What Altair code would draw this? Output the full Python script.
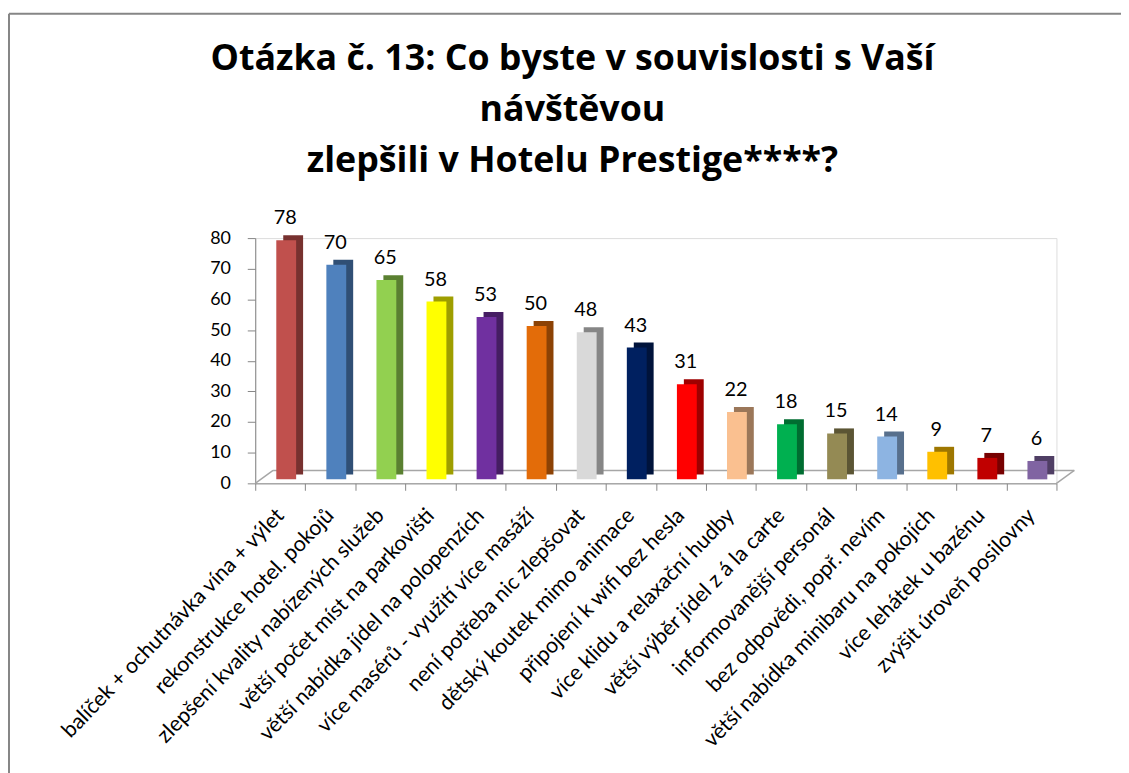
import altair as alt
import pandas as pd

categories = [
    "balíček + ochutnávka vína + výlet",
    "rekonstrukce hotel. pokojů",
    "zlepšení kvality nabízených služeb",
    "větší počet míst na parkovišti",
    "větší nabídka jídel na polopenzích",
    "více masérů - využití více masáží",
    "není potřeba nic zlepšovat",
    "dětský koutek mimo animace",
    "připojení k wifi bez hesla",
    "více klidu a relaxační hudby",
    "větší výběr jídel z á la carte",
    "informovanější personál",
    "bez odpovědi, popř. nevím",
    "větší nabídka minibaru na pokojích",
    "více lehátek u bazénu",
    "zvýšit úroveň posilovny",
]
values = [78, 70, 65, 58, 53, 50, 48, 43, 31, 22, 18, 15, 14, 9, 7, 6]
y_ticks = [0, 10, 20, 30, 40, 50, 60, 70, 80]

colors = [
    "#C0504D", "#4F81BD", "#92D050", "#FFFF00", "#7030A0", "#E36C09",
    "#D9D9D9", "#002060", "#FF0000", "#FAC090", "#00B050", "#948A54",
    "#8DB4E2", "#FFC000", "#C00000", "#8064A2",
]


def darker(hex_color, f=0.62):
    h = hex_color.lstrip("#")
    r, g, b = (int(h[i:i + 2], 16) for i in (0, 2, 4))
    return "#%02x%02x%02x" % (int(r * f), int(g * f), int(b * f))


df = pd.DataFrame({
    "kat": categories,
    "hodnota": values,
    "barva": colors,
    "stin": [darker(c) for c in colors],
})

W, H = 807, 247
FONT = "Lato"

x_enc = alt.X(
    "kat:N",
    sort=categories,
    scale=alt.Scale(paddingInner=0, paddingOuter=0),
    axis=alt.Axis(
        title=None,
        labelAngle=-46,
        labelAlign="right",
        labelBaseline="middle",
        labelPadding=22,
        labelFontSize=21.5,
        labelFont=FONT,
        labelColor="#000000",
        labelLimit=600,
        labelOverlap=False,
        tickBand="extent",
        tickSize=7,
        tickColor="#868686",
        domainColor="#868686",
        grid=False,
    ),
)
y_enc = alt.Y(
    "hodnota:Q",
    scale=alt.Scale(domain=[0, 80], nice=False),
    axis=alt.Axis(
        title=None,
        values=y_ticks,
        labelFontSize=18,
        labelFont=FONT,
        labelColor="#000000",
        labelPadding=17,
        tickSize=8,
        tickColor="#868686",
        domainColor="#868686",
        grid=False,
    ),
)

base = alt.Chart(df)

side = base.mark_bar(size=20, xOffset=13, yOffset=-9).encode(
    x=x_enc, y=y_enc, color=alt.Color("stin:N", scale=None)
)
front = base.mark_bar(size=20, xOffset=6, yOffset=-4).encode(
    x=x_enc, y=y_enc, color=alt.Color("barva:N", scale=None)
)
labels = base.mark_text(
    dx=5, dy=-20, baseline="alphabetic", fontSize=20, font=FONT, color="#000000"
).encode(x=x_enc, y=y_enc, text="hodnota:Q")

one = alt.Chart(pd.DataFrame({"a": [0]}))
floor_back = one.mark_rule(color="#a6a6a6", strokeWidth=1.5).encode(
    x=alt.value(18), x2=alt.value(W + 18), y=alt.value(H - 13)
)
floor_left = one.mark_rule(color="#a6a6a6", strokeWidth=1.5).encode(
    x=alt.value(0), x2=alt.value(18), y=alt.value(H), y2=alt.value(H - 13)
)
floor_right = one.mark_rule(color="#a6a6a6", strokeWidth=1.5).encode(
    x=alt.value(W), x2=alt.value(W + 18), y=alt.value(H), y2=alt.value(H - 13)
)
border_top = one.mark_rule(color="#868686", strokeWidth=2).encode(
    x=alt.value(-248), x2=alt.value(3000), y=alt.value(-226)
)
border_left = one.mark_rule(color="#868686", strokeWidth=2).encode(
    x=alt.value(-248), y=alt.value(-226), y2=alt.value(3000)
)

chart = alt.layer(
    border_top, border_left, floor_back, floor_left, floor_right, side, front, labels
).properties(
    width=W,
    height=H,
    title=alt.Title(
        text=[
            "Otázka č. 13: Co byste v souvislosti s Vaší",
            "návštěvou",
            "zlepšili v Hotelu Prestige****?",
        ],
        font="Open Sans",
        fontSize=36,
        fontWeight="bold",
        color="#000000",
        lineHeight=51,
        anchor="middle",
        frame="group",
        dx=-84,
        offset=-168,
    ),
    autosize=alt.AutoSizeParams(type="none"),
    padding={"left": 249, "top": 229, "right": 65, "bottom": 289},
).configure_view(stroke=None).configure(background="#ffffff")

chart.save("out.html", embed_options={"renderer": "svg", "actions": False})
